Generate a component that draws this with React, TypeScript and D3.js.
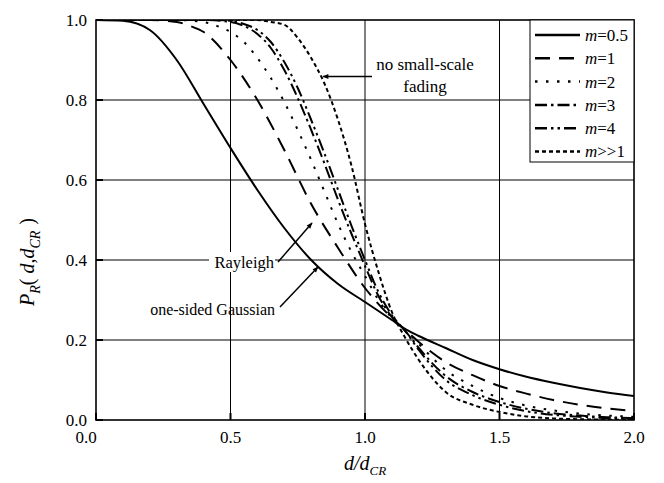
import React from "react";
import * as d3 from "d3";

const xTicks = [0, 0.5, 1.0, 1.5, 2.0];
const yTicks = [0, 0.2, 0.4, 0.6, 0.8, 1.0];

const dM05 = [0, 0.1, 0.2, 0.3, 0.4, 0.5, 0.6, 0.7, 0.8, 0.9, 1.0, 1.1, 1.15, 1.2, 1.3, 1.4, 1.5, 1.6, 1.7, 1.8, 1.9, 2.0];
const pM05 = [1.0, 0.998, 0.975, 0.9, 0.79, 0.68, 0.575, 0.48, 0.4, 0.34, 0.295, 0.25, 0.227, 0.21, 0.18, 0.15, 0.127, 0.108, 0.093, 0.08, 0.069, 0.06];

const dM1 = [0, 0.2, 0.3, 0.35, 0.4, 0.5, 0.6, 0.7, 0.8, 0.9, 1.0, 1.1, 1.15, 1.2, 1.3, 1.4, 1.5, 1.6, 1.7, 1.8, 1.9, 2.0];
const pM1 = [1, 1, 0.995, 0.985, 0.97, 0.9, 0.8, 0.675, 0.54, 0.43, 0.33, 0.255, 0.225, 0.195, 0.145, 0.112, 0.085, 0.066, 0.05, 0.038, 0.029, 0.022];

const dM2 = [0, 0.3, 0.4, 0.45, 0.5, 0.55, 0.6, 0.65, 0.7, 0.75, 0.8, 0.85, 0.9, 0.95, 1.0, 1.05, 1.1, 1.15, 1.2, 1.3, 1.4, 1.5, 1.6, 1.7, 1.8, 1.9, 2.0];
const pM2 = [1, 1, 0.995, 0.985, 0.97, 0.945, 0.905, 0.855, 0.795, 0.725, 0.65, 0.57, 0.49, 0.42, 0.36, 0.3, 0.255, 0.225, 0.19, 0.125, 0.085, 0.055, 0.036, 0.024, 0.016, 0.011, 0.008];

const dM3 = [0, 0.4, 0.5, 0.55, 0.6, 0.65, 0.7, 0.75, 0.8, 0.85, 0.9, 0.95, 1.0, 1.05, 1.1, 1.15, 1.2, 1.3, 1.4, 1.5, 1.6, 1.7, 1.8, 1.9, 2.0];
const pM3 = [1, 1, 0.995, 0.985, 0.965, 0.93, 0.875, 0.805, 0.725, 0.64, 0.55, 0.465, 0.385, 0.31, 0.257, 0.222, 0.18, 0.11, 0.07, 0.045, 0.028, 0.017, 0.011, 0.007, 0.005];

const dM4 = [0, 0.45, 0.5, 0.55, 0.6, 0.65, 0.7, 0.75, 0.8, 0.85, 0.9, 0.95, 1.0, 1.05, 1.1, 1.15, 1.2, 1.3, 1.4, 1.5, 1.6, 1.7, 1.8, 1.9, 2.0];
const pM4 = [1, 1, 0.998, 0.99, 0.975, 0.945, 0.895, 0.83, 0.75, 0.665, 0.575, 0.485, 0.4, 0.32, 0.262, 0.222, 0.175, 0.1, 0.062, 0.038, 0.022, 0.013, 0.008, 0.005, 0.003];

const dMInf = [0, 0.5, 0.6, 0.65, 0.7, 0.75, 0.8, 0.85, 0.9, 0.95, 1.0, 1.05, 1.1, 1.15, 1.2, 1.25, 1.3, 1.4, 1.5, 1.6, 1.7, 1.8, 1.9, 2.0];
const pMInf = [1, 1, 1, 0.995, 0.988, 0.955, 0.905, 0.84, 0.75, 0.635, 0.49, 0.37, 0.27, 0.205, 0.15, 0.105, 0.07, 0.038, 0.02, 0.009, 0.004, 0.002, 0.001, 0.0];

const seriesLabels = ["=0.5", "=1", "=2", "=3", "=4", ">>1"];
const seriesD = [dM05, dM1, dM2, dM3, dM4, dMInf];
const seriesP = [pM05, pM1, pM2, pM3, pM4, pMInf];
const dashes = ["", "15,9", "2.5,8.5", "12,4,2.5,4", "12,4,2.5,4,2.5,4", "4,3"];

const W = 664;
const H = 483;
const L = 96, R = 634, T = 20, B = 420;
const FONT = "'Liberation Serif', 'Times New Roman', serif";

export default function App() {
  const x = d3.scaleLinear().domain([0, 2]).range([L, R]);
  const y = d3.scaleLinear().domain([0, 1]).range([B, T]);
  const line = d3
    .line<[number, number]>()
    .x((p) => x(p[0]))
    .y((p) => y(p[1]))
    .curve(d3.curveMonotoneX);

  const legX0 = 535, legX1 = 580, legTx = 585, legY0 = 35, legDy = 23.3;

  return (
    <svg width={W} height={H} style={{ position: "absolute", left: 0, top: 0, background: "#fff" }} fontFamily={FONT}>
      <defs>
        <clipPath id="plotclip">
          <rect x={L} y={T} width={R - L} height={B - T} />
        </clipPath>
        <marker id="arr" viewBox="0 0 10 10" refX="9" refY="5" markerWidth="10" markerHeight="6" orient="auto" markerUnits="userSpaceOnUse">
          <path d="M0,1 L10,5 L0,9 Z" fill="#000" />
        </marker>
      </defs>
      <rect x={0} y={0} width={W} height={H} fill="#fff" />
      {/* grid */}
      {xTicks.slice(1, -1).map((t) => (
        <line key={"gx" + t} x1={x(t)} x2={x(t)} y1={T} y2={B} stroke="#000" strokeWidth={1} />
      ))}
      {yTicks.slice(1, -1).map((t) => (
        <line key={"gy" + t} x1={L} x2={R} y1={y(t)} y2={y(t)} stroke="#000" strokeWidth={1} />
      ))}
      {/* ticks */}
      {yTicks.map((t) => (
        <line key={"ty" + t} x1={L} x2={L + 7} y1={y(t)} y2={y(t)} stroke="#000" strokeWidth={2} />
      ))}
      {xTicks.map((t) => (
        <line key={"tx" + t} x1={x(t)} x2={x(t)} y1={B} y2={B - 7} stroke="#000" strokeWidth={2} />
      ))}
      {/* curves */}
      <g clipPath="url(#plotclip)">
        {seriesD.map((ds, i) => (
          <path
            key={"s" + i}
            d={line(ds.map((dv, j) => [dv, seriesP[i][j]] as [number, number])) || ""}
            fill="none"
            stroke="#000"
            strokeWidth={2}
            strokeDasharray={dashes[i] || undefined}
          />
        ))}
      </g>
      {/* frame */}
      <rect x={L} y={T} width={R - L} height={B - T} fill="none" stroke="#000" strokeWidth={1.6} />
      {/* tick labels */}
      {yTicks.map((t) => (
        <text key={"ly" + t} x={L - 9} y={y(t)} dy="0.35em" textAnchor="end" fontSize={17}>
          {t.toFixed(1)}
        </text>
      ))}
      {xTicks.map((t, i) => (
        <text key={"lx" + t} x={x(t) - (i === 0 ? 10 : 0)} y={B + 23} textAnchor="middle" fontSize={17}>
          {t.toFixed(1)}
        </text>
      ))}
      {/* axis titles */}
      <text x={(L + R) / 2} y={470} textAnchor="middle" fontSize={20} fontStyle="italic">
        d/d<tspan fontSize={13} dy={5}>CR</tspan>
      </text>
      <text transform={`translate(34,262) rotate(-90)`} textAnchor="middle" fontSize={20}>
        <tspan fontStyle="italic">P</tspan>
        <tspan fontSize={14} dy={6} fontStyle="italic">R</tspan>
        <tspan dy={-6}>(</tspan>
        <tspan dx={5} fontStyle="italic">d,d</tspan>
        <tspan fontSize={14} dy={6} fontStyle="italic">CR</tspan>
        <tspan dy={-6} dx={6}>)</tspan>
      </text>
      {/* legend */}
      <rect x={530} y={T} width={R - 530} height={142} fill="#fff" stroke="#000" strokeWidth={1} />
      {seriesLabels.map((lab, i) => (
        <g key={"lg" + i}>
          <line
            x1={legX0}
            x2={legX1}
            y1={legY0 + i * legDy}
            y2={legY0 + i * legDy}
            stroke="#000"
            strokeWidth={2.5}
            strokeDasharray={dashes[i] || undefined}
          />
          <text x={legTx} y={legY0 + i * legDy} dy="0.35em" fontSize={17}>
            <tspan fontStyle="italic">m</tspan>{lab}
          </text>
        </g>
      ))}
      {/* annotations */}
      <rect x={372} y={55} width={106} height={42} fill="#fff" />
      <text x={425} y={70} textAnchor="middle" fontSize={17}>no small-scale</text>
      <text x={425} y={92} textAnchor="middle" fontSize={17}>fading</text>
      <line x1={372} y1={76.5} x2={323} y2={76.5} stroke="#000" strokeWidth={1.5} markerEnd="url(#arr)" />

      <rect x={209} y={252} width={66} height={20} fill="#fff" />
      <text x={274} y={268} textAnchor="end" fontSize={16.5}>Rayleigh</text>
      <line x1={278} y1={262} x2={312} y2={223} stroke="#000" strokeWidth={1.5} markerEnd="url(#arr)" />

      <text x={275} y={315} textAnchor="end" fontSize={16}>one-sided Gaussian</text>
      <line x1={280} y1={307} x2={318} y2={267} stroke="#000" strokeWidth={1.5} markerEnd="url(#arr)" />
    </svg>
  );
}
